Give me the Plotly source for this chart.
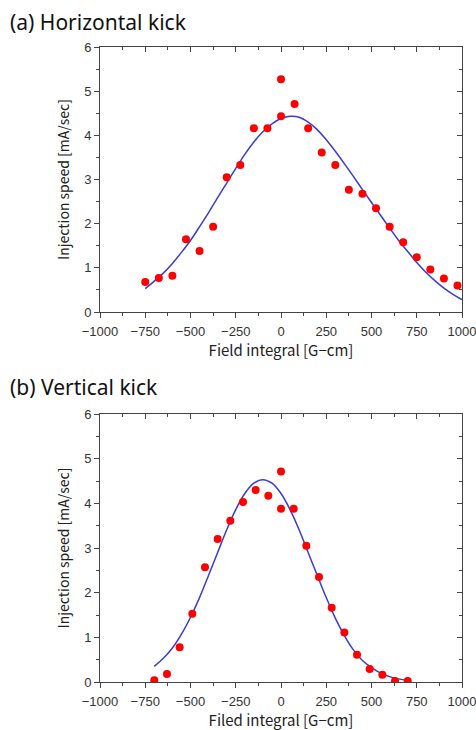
import plotly.graph_objects as go

# (a) Horizontal kick - measured points
h_x = [-750, -675, -600, -525, -450, -375, -300, -225, -150, -75, 0, 0, 75, 150, 225,
       300, 375, 450, 525, 600, 675, 750, 825, 900, 975]
h_y = [0.68, 0.77, 0.82, 1.65, 1.38, 1.93, 3.05, 3.33, 4.16, 4.16, 4.43, 5.27, 4.71, 4.16, 3.61,
       3.33, 2.77, 2.68, 2.35, 1.93, 1.58, 1.24, 0.96, 0.76, 0.60]
# (a) fitted curve
h_fit_x = [-750, -700, -650, -600, -550, -500, -450, -400, -350, -300, -250, -200, -150, -100, -50,
           0, 50, 100, 150, 200, 250, 300, 350, 400, 450, 500, 550, 600, 650, 700, 750, 800, 850,
           900, 950, 1000]
h_fit_y = [0.53, 0.70, 0.88, 1.10, 1.35, 1.62, 1.93, 2.25, 2.59, 2.92, 3.25, 3.57, 3.85, 4.08, 4.26,
           4.38, 4.43, 4.41, 4.30, 4.13, 3.90, 3.64, 3.36, 3.07, 2.77, 2.48, 2.19, 1.90, 1.62, 1.37,
           1.12, 0.90, 0.71, 0.54, 0.40, 0.28]

# (b) Vertical kick - measured points
v_x = [-700, -630, -560, -490, -420, -350, -280, -210, -140, -70, 0, 0, 70, 140, 210, 280,
       350, 420, 490, 560, 630, 700]
v_y = [0.04, 0.18, 0.78, 1.53, 2.57, 3.20, 3.61, 4.03, 4.30, 4.17, 4.71, 3.88, 3.88, 3.05, 2.35, 1.66,
       1.11, 0.61, 0.29, 0.16, 0.02, 0.02]
# (b) fitted curve
v_fit_x = [-700, -650, -600, -550, -500, -450, -400, -350, -300, -250, -200, -150, -100, -50, 0,
           50, 100, 150, 200, 250, 300, 350, 400, 450, 500, 550, 600, 650, 700]
v_fit_y = [0.35, 0.53, 0.76, 1.07, 1.45, 1.89, 2.39, 2.90, 3.41, 3.86, 4.22, 4.45, 4.53, 4.45, 4.22,
           3.86, 3.41, 2.90, 2.39, 1.89, 1.43, 1.04, 0.72, 0.48, 0.32, 0.20, 0.12, 0.07, 0.04]

x_ticks = [-1000, -750, -500, -250, 0, 250, 500, 750, 1000]
y_ticks = [0, 1, 2, 3, 4, 5, 6]

titles = ["(a) Horizontal kick", "(b) Vertical kick"]
x_titles = ["Field integral [G\u2212cm]", "Filed integral [G\u2212cm]"]
y_title = "Injection speed [mA/sec]"

W, H = 476, 730
TXT = "Noto Sans CJK JP"
TICKF = "Liberation Sans"
AX = "#444444"
dot_color = "#ff0000"
line_color = "#3b3bd0"

fig = go.Figure()

# plot boxes in pixels: (left, right, top, bottom)
boxes = [(100, 462, 47, 312), (100, 462, 414, 682)]
title_off = [25, 27]

panels = [(h_x, h_y, h_fit_x, h_fit_y), (v_x, v_y, v_fit_x, v_fit_y)]

layout = dict(
    width=W, height=H,
    margin=dict(l=0, r=0, t=0, b=0, autoexpand=False),
    paper_bgcolor="white", plot_bgcolor="white",
    showlegend=False,
    font=dict(family=TICKF, size=13, color="#333333"),
)

annotations = []
for i, (px, py, fx, fy) in enumerate(panels):
    l, r, t, b = boxes[i]
    xd = [l / W, r / W]
    yd = [(H - b) / H, (H - t) / H]
    n = i * 2
    xa = "x" if i == 0 else "x%d" % (n + 1)
    ya = "y" if i == 0 else "y%d" % (n + 1)
    xa2 = "x%d" % (n + 2)
    ya2 = "y%d" % (n + 2)
    xkey = "xaxis" if i == 0 else "xaxis%d" % (n + 1)
    ykey = "yaxis" if i == 0 else "yaxis%d" % (n + 1)
    xkey2 = "xaxis%d" % (n + 2)
    ykey2 = "yaxis%d" % (n + 2)

    fig.add_trace(go.Scatter(x=fx, y=fy, mode="lines", xaxis=xa, yaxis=ya,
                             line=dict(color=line_color, width=1.5, shape="spline"),
                             hoverinfo="skip"))
    fig.add_trace(go.Scatter(x=px, y=py, mode="markers", xaxis=xa, yaxis=ya,
                             marker=dict(color=dot_color, size=8, line=dict(width=0))))

    layout[xkey] = dict(domain=xd, anchor=ya, range=[-1000, 1000], automargin=False,
                        tickvals=x_ticks, ticks="outside", ticklen=5, tickcolor=AX,
                        ticklabelstandoff=2, ticklabeloverflow="allow",
                        showline=True, linecolor=AX, linewidth=1, showgrid=False, zeroline=False,
                        tickfont=dict(family=TICKF, size=13, color="#333333"),
                        minor=dict(dtick=125, tick0=0, ticks="outside", ticklen=3, tickcolor=AX),
                        title=dict(text=x_titles[i], standoff=7,
                                   font=dict(family=TXT, size=15, color="#222222")))
    layout[ykey] = dict(domain=yd, anchor=xa, range=[0, 6], automargin=False,
                        tickvals=y_ticks, ticks="outside", ticklen=5, tickcolor=AX,
                        ticklabeloverflow="allow",
                        showline=True, linecolor=AX, linewidth=1, showgrid=False, zeroline=False,
                        tickfont=dict(family=TICKF, size=13, color="#333333"),
                        minor=dict(dtick=0.5, tick0=0, ticks="outside", ticklen=3, tickcolor=AX),
                        title=dict(text=y_title, standoff=11,
                                   font=dict(family=TXT, size=14, color="#222222")))
    layout[xkey2] = dict(overlaying=xa, side="top", anchor=ya, range=[-1000, 1000], automargin=False,
                         tickvals=x_ticks, ticks="inside", ticklen=5, tickcolor=AX,
                         showticklabels=False, showline=True, linecolor=AX, linewidth=1,
                         showgrid=False, zeroline=False,
                         minor=dict(dtick=125, tick0=0, ticks="inside", ticklen=3, tickcolor=AX))
    layout[ykey2] = dict(overlaying=ya, side="right", anchor=xa, range=[0, 6], automargin=False,
                         tickvals=y_ticks, ticks="inside", ticklen=5, tickcolor=AX,
                         showticklabels=False, showline=True, linecolor=AX, linewidth=1,
                         showgrid=False, zeroline=False,
                         minor=dict(dtick=0.5, tick0=0, ticks="inside", ticklen=3, tickcolor=AX))
    # dummy traces to activate overlaying axes
    fig.add_trace(go.Scatter(x=[None], y=[None], xaxis=xa2, yaxis=ya2, mode="markers",
                             hoverinfo="skip", showlegend=False))

    annotations.append(dict(text=titles[i], xref="paper", yref="paper",
                            x=8 / W, y=(H - (t - title_off[i])) / H, xanchor="left", yanchor="middle",
                            showarrow=False,
                            font=dict(family="Noto Sans", size=21, color="#111111")))

layout["annotations"] = annotations
fig.update_layout(**layout)

fig.write_html("out.html")
